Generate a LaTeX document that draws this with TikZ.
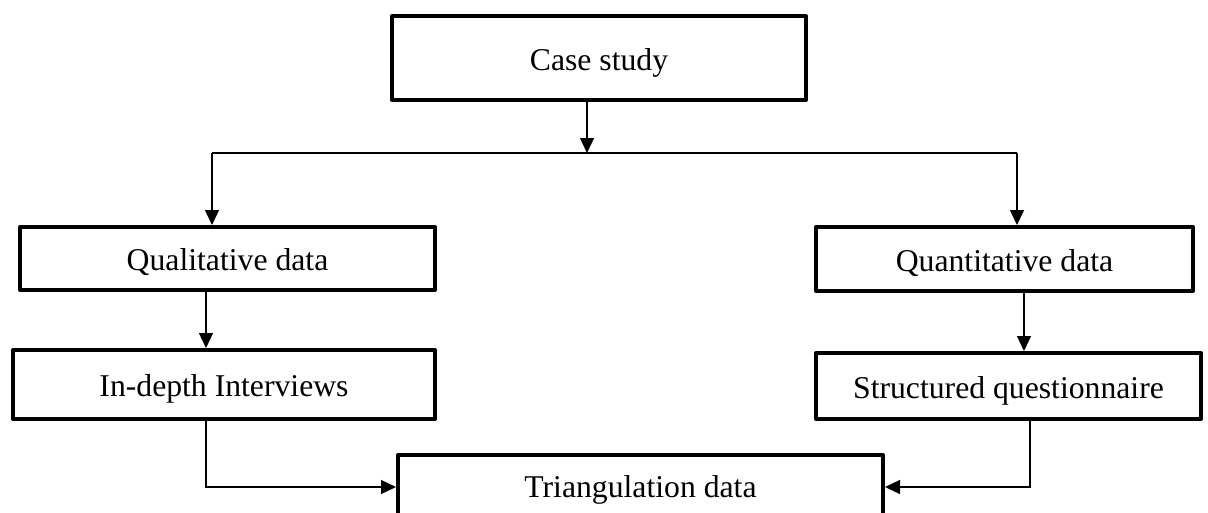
\documentclass[tikz,border=0pt]{standalone}
\usepackage{fontspec}
\setmainfont{Liberation Serif}
\usetikzlibrary{arrows.meta,calc}
\begin{document}
\begin{tikzpicture}[x=1pt,y=-1pt,
  box/.style={draw, line width=4pt, line join=round, inner sep=0pt,
    text height=24pt, text depth=0pt,
    font=\fontsize{31.7}{38}\selectfont},
  conn/.style={line width=1.3pt, -{Triangle[width=14pt,length=15pt]}},
  plain/.style={line width=1.3pt}]
\useasboundingbox (0,0) rectangle (1208,512);
\clip (0,0) rectangle (1208,512);
\node[box, minimum width=414pt, minimum height=84pt] (case) at (599,58) {Case study};
\node[box, minimum width=415pt, minimum height=63pt] (qual) at (227.5,258.5) {Qualitative data};
\node[box, minimum width=377pt, minimum height=64pt] (quant) at (1004.5,259) {Quantitative data};
\node[box, minimum width=422pt, minimum height=69pt] (indepth) at (224,384.5) {In-depth Interviews};
\node[box, minimum width=385pt, minimum height=66pt] (struct) at (1008.5,386) {Structured questionnaire};
\node[box, minimum width=485pt, minimum height=60pt] (tri) at (640.5,485) {Triangulation data};
\coordinate (hub) at (587,153);
\coordinate (hl) at (212,153);
\coordinate (hr) at (1017,153);
\coordinate (lq) at (206,300);
\coordinate (rq) at (1024,300);
\coordinate (li) at (206,487);
\coordinate (ri) at (1030,487);
\draw[conn] (case.south -| hub) -- (hub);
\draw[plain] (hl) -- (hr);
\draw[conn] (hl) -- (hl |- qual.north);
\draw[conn] (hr) -- (hr |- quant.north);
\draw[conn] (lq |- qual.south) -- (lq |- indepth.north);
\draw[conn] (rq |- quant.south) -- (rq |- struct.north);
\draw[conn] (indepth.south -| li) -- (li) -- (li -| tri.west);
\draw[conn] (struct.south -| ri) -- (ri) -- (ri -| tri.east);
\end{tikzpicture}
\end{document}
